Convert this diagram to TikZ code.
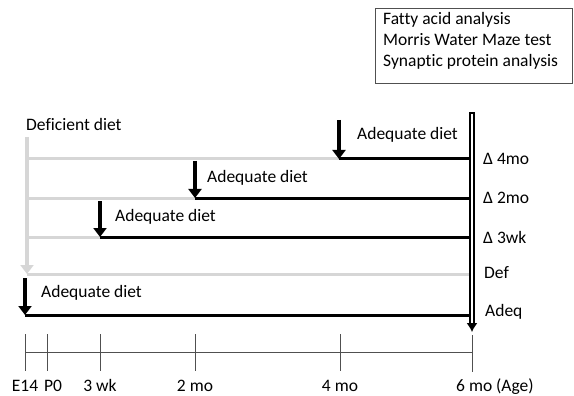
\documentclass[tikz,border=0pt]{standalone}
\usepackage{fontspec}
\setmainfont{Carlito}[Ligatures=NoCommon]
\usetikzlibrary{arrows.meta}
\definecolor{defgray}{HTML}{D6D6D6}
\definecolor{axisgray}{HTML}{505050}

\begin{document}
\begin{tikzpicture}[x=1pt, y=-1pt,
    lbl/.style={anchor=west, inner sep=0pt, font=\fontsize{17.5}{21}\selectfont},
    defline/.style={defgray, line width=3pt},
    adqline/.style={black, line width=3pt},
    adqarrow/.style={black, line width=4.5pt, -{Triangle[width=13pt, length=9pt]}},
    defarrow/.style={defgray, line width=4.5pt, -{Triangle[width=13pt, length=9pt]}},
    axisline/.style={axisgray, line width=1pt}]
    \useasboundingbox (0,0) rectangle (574,396);
    % measurements box
    \node[draw=axisgray, line width=1pt, anchor=north west, minimum width=197pt, minimum height=75pt,
          inner sep=0pt] (box) at (375,8) {};
    \node[lbl, align=left, anchor=north west] (tests) at (383,12)
        {Fatty acid analysis\\Morris Water Maze test\\Synaptic protein analysis};
    % row coordinates
    \coordinate (top) at (27,137);
    \coordinate (s4) at (27,159);
    \coordinate (a4) at (339,159);
    \coordinate (t4) at (339,120);
    \coordinate (e4) at (472,159);
    \coordinate (s2) at (27,198);
    \coordinate (a2) at (195,198);
    \coordinate (t2) at (195,161);
    \coordinate (e2) at (472,198);
    \coordinate (s3) at (27,237);
    \coordinate (a3) at (100,237);
    \coordinate (t3) at (100,201);
    \coordinate (e3) at (472,237);
    \coordinate (sd) at (27,274);
    \coordinate (ed) at (472,274);
    \coordinate (sa) at (25,315);
    \coordinate (ta) at (25,278);
    \coordinate (ea) at (472,315);
    \coordinate (agetop) at (472,115);
    \coordinate (agebot) at (472,332);
    % deficient diet
    \node[lbl] (deflbl) at (26,124) {Deficient diet};
    \draw[defline] (s4) -- (a4);
    \draw[defline] (s2) -- (a2);
    \draw[defline] (s3) -- (a3);
    \draw[defline] (sd) -- (ed);
    \draw[defarrow] (top) -- (sd);
    % switch to adequate diet
    \draw[adqline] (a4) -- (e4);
    \draw[adqline] (a2) -- (e2);
    \draw[adqline] (a3) -- (e3);
    \draw[adqline] (sa) -- (ea);
    \draw[adqarrow] (t4) -- (a4);
    \draw[adqarrow] (t2) -- (a2);
    \draw[adqarrow] (t3) -- (a3);
    \draw[adqarrow] (ta) -- (sa);
    \node[lbl] (adq4) at (357,135) {Adequate diet};
    \node[lbl] (adq2) at (207,178) {Adequate diet};
    \node[lbl] (adq3) at (115,217) {Adequate diet};
    \node[lbl] (adqa) at (41,293) {Adequate diet};
    % groups
    \node[lbl] (g4) at (483,159) {Δ 4mo};
    \node[lbl] (g2) at (483,198) {Δ 2mo};
    \node[lbl] (g3) at (483,237) {Δ 3wk};
    \node[lbl] (gd) at (484,273) {Def};
    \node[lbl] (ga) at (485,312) {Adeq};
    \draw[double=white, double distance=2.5pt, line width=1.3pt, line cap=rect,
          -{Latex[length=9pt, width=11pt]}] (agetop) -- (agebot);
    % age axis
    \coordinate (ax0) at (25,352);
    \coordinate (ax1) at (472,352);
    \draw[axisline] (ax0) -- (ax1);
    \foreach \tx in {25, 47, 100, 195, 340}
        \draw[axisline] (\tx,334) -- (\tx,371);
    \draw[axisline] (472,335) -- (472,372);
    \foreach \tx/\tname in {25/E14, 100/3 wk, 195/2 mo, 340/4 mo}
        \node[lbl, anchor=base] at (\tx,391) {\tname};
    \node[lbl, anchor=base west] (p0lbl) at (44,391) {P0};
    \node[lbl, anchor=base west] (agelbl) at (456,391) {6 mo (Age)};
\end{tikzpicture}
\end{document}
